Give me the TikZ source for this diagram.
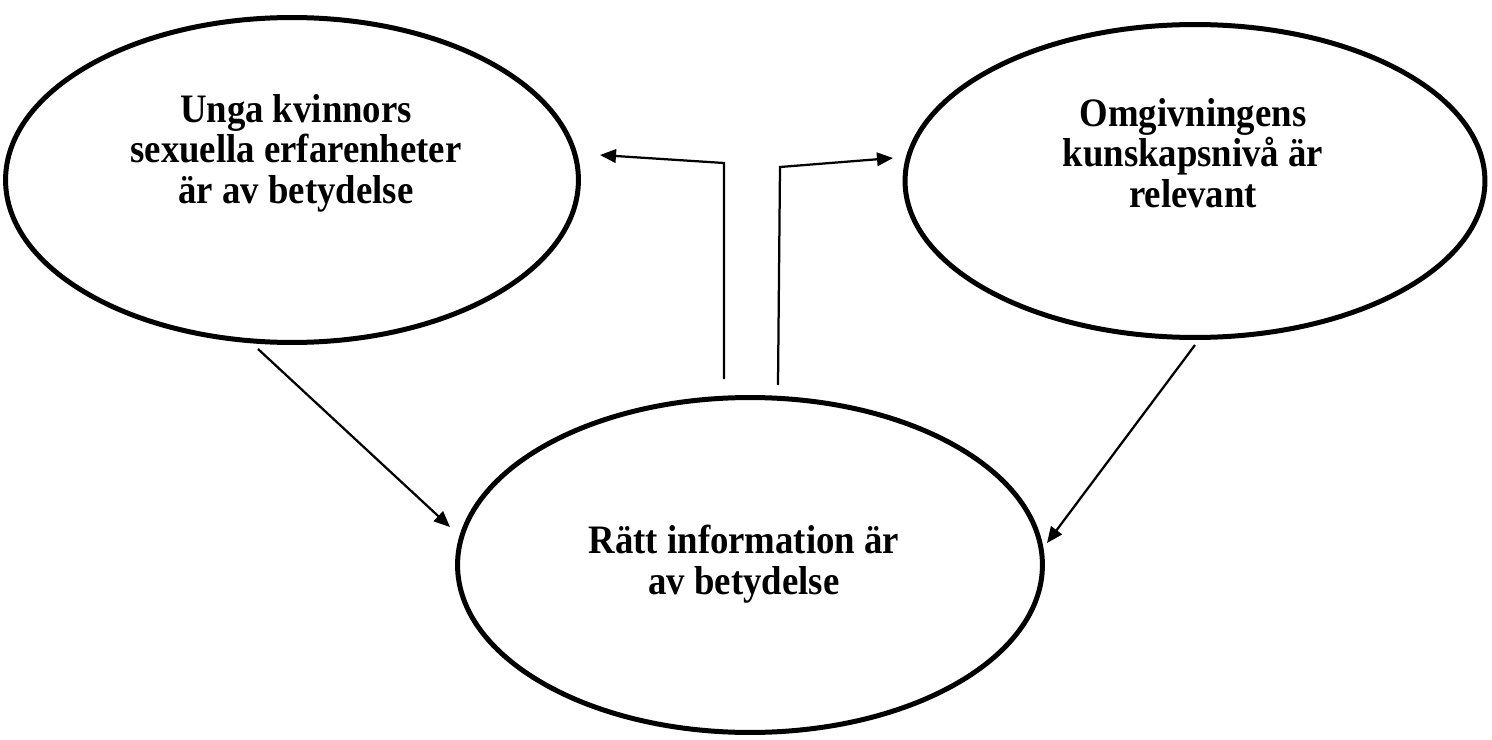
\documentclass[tikz,border=0pt]{standalone}
\usepackage{fontspec}
\setmainfont[FakeStretch=0.91]{Liberation Serif}
\usetikzlibrary{arrows.meta, shapes.geometric, positioning}

\begin{document}
\begin{tikzpicture}[x=0.02cm, y=-0.02cm, >={Triangle[length=0.32cm, width=0.27cm]},
  bubble/.style={draw, ellipse, line width=0.1cm, inner sep=0pt},
  txt/.style={align=center, font=\fontsize{23}{23}\selectfont\bfseries},
  link/.style={->, line width=0.045cm}]
  \useasboundingbox (0,0) rectangle (1492,740);
  % Ellipses
  \node[bubble, minimum width=11.46cm, minimum height=6.5cm] (kvinnor) at (292,180) {};
  \node[bubble, minimum width=11.6cm, minimum height=6.26cm] (omgivning) at (1195,181) {};
  \node[bubble, minimum width=11.7cm, minimum height=6.7cm] (info) at (750,565) {};
  % Texts
  \node[txt] (kvinnortxt) at (296,153) {Unga kvinnors\\sexuella erfarenheter\\är av betydelse};
  \node[txt] (omgivningtxt) at (1193,153) {Omgivningens\\kunskapsnivå är\\relevant};
  \node[txt] (infotxt) at (744,564) {Rätt information är\\av betydelse};
  % Free ends
  \coordinate (vl) at (724,379);
  \coordinate (vlt) at (724,163);
  \coordinate (ltip) at (600,155);
  \coordinate (vr) at (778,385);
  \coordinate (vrt) at (780,167);
  \coordinate (rtip) at (893,158);
  \coordinate (dl) at (258,349);
  \coordinate (dltip) at (450,527);
  \coordinate (dr) at (1195,345);
  \coordinate (drtip) at (1047,543);
  % Connectors
  \draw[link] (vl) -- (vlt) -- (ltip);
  \draw[link] (vr) -- (vrt) -- (rtip);
  \draw[link] (dl) -- (dltip);
  \draw[link] (dr) -- (drtip);
\end{tikzpicture}
\end{document}
